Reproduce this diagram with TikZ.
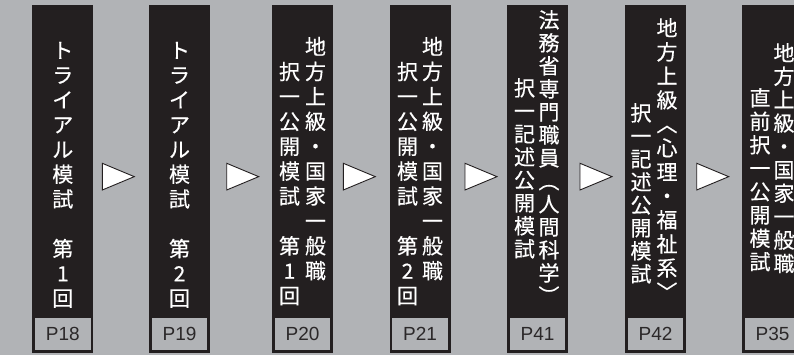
\documentclass[tikz,border=0pt]{standalone}
\usepackage{fontspec}
\usepackage{graphicx}
\newfontfamily\cjk[FakeBold=0.35]{Noto Sans CJK JP}
\newfontfamily\pagefont{Liberation Sans}
\usetikzlibrary{positioning}
\definecolor{bggray}{HTML}{B1B3B6}
\definecolor{panelblack}{HTML}{231F20}
\definecolor{pagetext}{HTML}{2B2829}
\newcommand\vk[1]{\rotatebox[origin=c]{-90}{#1}}
\tikzset{
    panel/.style={fill=panelblack, minimum width=61pt, minimum height=347.7pt, inner sep=0pt},
    pagebox/.style={fill=bggray, minimum width=55.7pt, minimum height=31.7pt, inner sep=0pt, text=pagetext, font=\pagefont\fontsize{19}{20}\selectfont},
    tate/.style={anchor=north, align=center, inner sep=0pt, text=white, font=\cjk\fontsize{21}{#1}\selectfont},
    tate/.default=24.8,
    nextmark/.style={draw=panelblack, fill=white, line width=0.9pt, line join=miter}
}
\begin{document}
\begin{tikzpicture}[x=1pt, y=-1pt]
    \useasboundingbox[fill=bggray] (0,0) rectangle (794,355);

    \node[panel] at (62.8, 178.85)(b1){};
    \node[panel] at (179.5, 178.85)(b2){};
    \node[panel] at (302.5, 178.85)(b3){};
    \node[panel] at (420, 178.85)(b4){};
    \node[panel] at (537.5, 178.85)(b5){};
    \node[panel] at (655.5, 178.85)(b6){};
    \node[panel] at (772.5, 178.85)(b7){};

    \node[pagebox, above=2.7pt of b1.south](p1){P18};
    \node[pagebox, above=2.7pt of b2.south](p2){P19};
    \node[pagebox, above=2.7pt of b3.south](p3){P20};
    \node[pagebox, above=2.7pt of b4.south](p4){P21};
    \node[pagebox, above=2.7pt of b5.south](p5){P41};
    \node[pagebox, above=2.7pt of b6.south](p6){P42};
    \node[pagebox, above=2.7pt of b7.south](p7){P35};

    \node[tate] at (62.8, 41.7)(t1){ト\\ラ\\イ\\ア\\ル\\模\\試\\\mbox{}\\第\\1\\回};
    \node[tate] at (179.5, 41.7)(t2){ト\\ラ\\イ\\ア\\ル\\模\\試\\\mbox{}\\第\\2\\回};
    \node[tate=24.9] at (315.5, 36.7)(t3r){地\\方\\上\\級\\・\\国\\家\\一\\般\\職};
    \node[tate=24.9] at (289.5, 61.7)(t3l){択\\一\\公\\開\\模\\試\\\mbox{}\\第\\1\\回};
    \node[tate=24.9] at (432.5, 36.7)(t4r){地\\方\\上\\級\\・\\国\\家\\一\\般\\職};
    \node[tate=24.9] at (407.5, 61.7)(t4l){択\\一\\公\\開\\模\\試\\\mbox{}\\第\\2\\回};
    \node[tate=23] at (549, 10)(t5r){法\\務\\省\\専\\門\\職\\員\\\vk{（}\\人\\間\\科\\学\\\vk{）}};
    \node[tate=23] at (524.5, 78)(t5l){択\\一\\記\\述\\公\\開\\模\\試};
    \node[tate=24] at (667, 18)(t6r){地\\方\\上\\級\\\vk{〈}\\心\\理\\・\\福\\祉\\系\\\vk{〉}};
    \node[tate=23] at (641, 103)(t6l){択\\一\\記\\述\\公\\開\\模\\試};
    \node[tate=23.4] at (784, 43)(t7r){地\\方\\上\\級\\・\\国\\家\\一\\般\\職};
    \node[tate=23.4] at (760, 88)(t7l){直\\前\\択\\一\\公\\開\\模\\試};

    \foreach \ax in {102.3, 226.7, 343.3, 465, 580, 696.7}
        \draw[nextmark] (\ax, 163.3) -- ++(0, 26.7) -- ++(32, -13.35) -- cycle;
\end{tikzpicture}
\end{document}
